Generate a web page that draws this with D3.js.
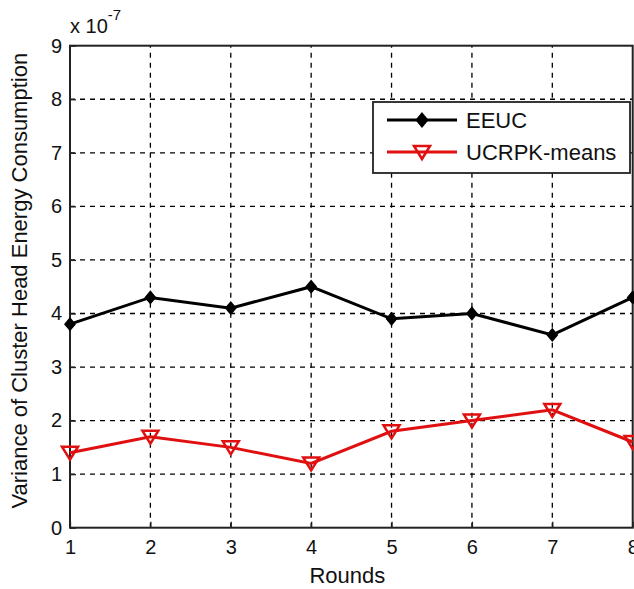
<!DOCTYPE html>
<html>
<head>
<meta charset="utf-8">
<script src="https://cdn.jsdelivr.net/npm/d3@7"></script>
<style>
  body { margin: 0; background: #fff; }
  text { font-family: "Liberation Sans", Arial, sans-serif; fill: #111; }
</style>
</head>
<body>
<div id="chart"></div>
<script>
// data (values in units of 1e-7)
var rounds = [1, 2, 3, 4, 5, 6, 7, 8]
var eeuc = [3.8, 4.3, 4.1, 4.5, 3.9, 4.0, 3.6, 4.3]
var ucrpk = [1.4, 1.7, 1.5, 1.2, 1.8, 2.0, 2.2, 1.6]
var yTicks = [0, 1, 2, 3, 4, 5, 6, 7, 8, 9]
var seriesNames = ['EEUC', 'UCRPK-means']

var W = 634, H = 589
var pad = { top: 45.7, right: 1.3, bottom: 61.3, left: 70 }

var svg = d3.select('#chart').append('svg')
  .attr('width', W)
  .attr('height', H)

var xScale = d3.scaleLinear()
  .domain([1, 8])
  .range([pad.left, W - pad.right])

var yScale = d3.scaleLinear()
  .domain([0, 9])
  .range([H - pad.bottom, pad.top])

// grid
var grid = svg.append('g').classed('grid', true)
grid.selectAll('.vgrid')
  .data(rounds.slice(1, -1))
  .enter().append('line')
  .attr('x1', d => xScale(d)).attr('x2', d => xScale(d))
  .attr('y1', yScale(0)).attr('y2', yScale(9))
  .style('stroke', '#000').style('stroke-width', 1.3)
  .style('stroke-dasharray', '5,5')

grid.selectAll('.hgrid')
  .data(yTicks.slice(1, -1))
  .enter().append('line')
  .attr('x1', xScale(1)).attr('x2', xScale(8))
  .attr('y1', d => yScale(d)).attr('y2', d => yScale(d))
  .style('stroke', '#000').style('stroke-width', 1.3)
  .style('stroke-dasharray', '5,5')

// axes
var xAxis = svg.append('g')
  .attr('transform', 'translate(0,' + yScale(0) + ')')
  .call(d3.axisBottom(xScale).tickValues(rounds).tickFormat(d3.format('d'))
    .tickSize(-6).tickSizeOuter(0).tickPadding(12))
var yAxis = svg.append('g')
  .attr('transform', 'translate(' + xScale(1) + ',0)')
  .call(d3.axisLeft(yScale).tickValues(yTicks).tickFormat(d3.format('d'))
    .tickSize(-6).tickSizeOuter(0).tickPadding(8))

;[xAxis, yAxis].forEach(function(ax) {
  ax.attr('font-size', null).attr('font-family', null)
  ax.select('.domain').remove()
  ax.selectAll('.tick line').style('stroke', '#222').style('stroke-width', 1.3)
  ax.selectAll('.tick text').style('font-size', '20px').style('fill', '#111')
})

// box
svg.append('rect')
  .attr('x', xScale(1)).attr('y', yScale(9))
  .attr('width', xScale(8) - xScale(1))
  .attr('height', yScale(0) - yScale(9))
  .style('fill', 'none').style('stroke', '#222').style('stroke-width', 2)

// exponent label
var expo = svg.append('text')
  .attr('x', 70).attr('y', 33)
  .style('font-size', '20px')
expo.append('tspan').text('x 10')
expo.append('tspan').attr('dy', -13).style('font-size', '15px').text('-7')

// axis titles
svg.append('text')
  .attr('x', (xScale(1) + xScale(8)) / 2 - 4)
  .attr('y', 583)
  .attr('text-anchor', 'middle')
  .style('font-size', '22px')
  .text('Rounds')

svg.append('text')
  .attr('transform', 'translate(27,' + ((yScale(0) + yScale(9)) / 2 - 6) + ') rotate(-90)')
  .attr('text-anchor', 'middle')
  .style('font-size', '22px')
  .text('Variance of Cluster Head Energy Consumption')

// lines
var line = d3.line()
  .x((d, i) => xScale(rounds[i]))
  .y(d => yScale(d))

var dataLayer = svg.append('g').classed('data-layer', true)

dataLayer.append('path').datum(eeuc)
  .attr('d', line)
  .style('fill', 'none').style('stroke', '#000').style('stroke-width', 3)

dataLayer.append('path').datum(ucrpk)
  .attr('d', line)
  .style('fill', 'none').style('stroke', '#e01010').style('stroke-width', 3)

var diamond = 'M0,-6L5,0L0,6L-5,0Z'
var triDown = 'M-8,-6L8,-6L0,7Z'

dataLayer.selectAll('.eeuc-pt')
  .data(eeuc).enter().append('path')
  .attr('d', diamond)
  .attr('transform', (d, i) => 'translate(' + xScale(rounds[i]) + ',' + yScale(d) + ')')
  .style('fill', '#000').style('stroke', '#000').style('stroke-width', 1.5)

dataLayer.selectAll('.ucrpk-pt')
  .data(ucrpk).enter().append('path')
  .attr('d', triDown)
  .attr('transform', (d, i) => 'translate(' + xScale(rounds[i]) + ',' + yScale(d) + ')')
  .style('fill', 'none').style('stroke', '#e01010').style('stroke-width', 2.5)

// legend
var legend = svg.append('g').classed('legend', true)
legend.append('rect')
  .attr('x', 373).attr('y', 102)
  .attr('width', 257).attr('height', 71)
  .style('fill', '#fff').style('stroke', '#222').style('stroke-width', 1.8)

var legendRows = [
  { name: seriesNames[0], colour: '#000', marker: diamond, fill: '#000', y: 120 },
  { name: seriesNames[1], colour: '#e01010', marker: triDown, fill: 'none', y: 152 }
]

legendRows.forEach(function(r) {
  legend.append('line')
    .attr('x1', 387).attr('x2', 457)
    .attr('y1', r.y).attr('y2', r.y)
    .style('stroke', r.colour).style('stroke-width', 3)
  legend.append('path')
    .attr('d', r.marker)
    .attr('transform', 'translate(422,' + r.y + ')')
    .style('fill', r.fill).style('stroke', r.colour).style('stroke-width', 2.5)
  legend.append('text')
    .attr('x', 466).attr('y', r.y + 8)
    .style('font-size', '22px')
    .text(r.name)
})
</script>
</body>
</html>
